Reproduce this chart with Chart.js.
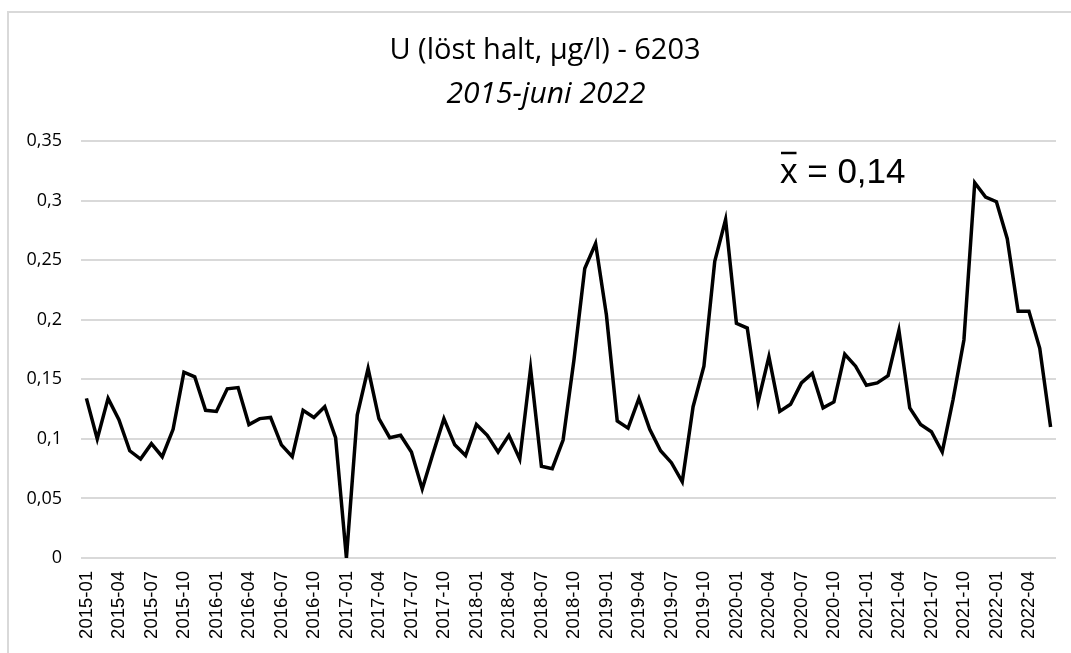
<!DOCTYPE html>
<html>
<head>
<meta charset="utf-8">
<script src="https://cdn.jsdelivr.net/npm/chart.js@4"></script>
<style>
  html, body { margin: 0; padding: 0; background: #fff; }
  #wrap { width: 1071px; height: 653px; }
</style>
</head>
<body>
<div id="wrap"><canvas id="uChart" width="1071" height="653"></canvas></div>
<script>
// months 2015-01 .. 2022-06
const months = [];
for (let y = 2015; y <= 2022; y++) {
    for (let m = 1; m <= 12; m++) {
        if (y === 2022 && m > 6) break;
        months.push(y + '-' + String(m).padStart(2, '0'));
    }
}

// U, dissolved (µg/l)
const values2015 = [0.134, 0.100, 0.134, 0.116, 0.090, 0.083, 0.096, 0.085, 0.108, 0.156, 0.152, 0.124];
const values2016 = [0.123, 0.142, 0.143, 0.112, 0.117, 0.118, 0.095, 0.085, 0.124, 0.118, 0.127, 0.101];
const values2017 = [0.000, 0.120, 0.159, 0.117, 0.101, 0.103, 0.089, 0.058, 0.088, 0.117, 0.095, 0.086];
const values2018 = [0.112, 0.103, 0.089, 0.103, 0.083, 0.159, 0.077, 0.075, 0.099, 0.166, 0.243, 0.264];
const values2019 = [0.204, 0.115, 0.109, 0.134, 0.108, 0.090, 0.080, 0.064, 0.127, 0.161, 0.249, 0.284];
const values2020 = [0.197, 0.193, 0.131, 0.169, 0.123, 0.129, 0.147, 0.155, 0.126, 0.131, 0.171, 0.161];
const values2021 = [0.145, 0.147, 0.153, 0.191, 0.126, 0.112, 0.106, 0.089, 0.133, 0.183, 0.315, 0.303];
const values2022 = [0.299, 0.268, 0.207, 0.207, 0.176, 0.110];
const uValues = [].concat(values2015, values2016, values2017, values2018,
                          values2019, values2020, values2021, values2022);

const yTickLabels = ['0', '0,05', '0,1', '0,15', '0,2', '0,25', '0,3', '0,35'];
const meanLabel = '0,14';
const titleText = 'U (löst halt, µg/l) - 6203';
const subtitleText = '2015-juni 2022';

const gridColor = '#d9d9d9';

// titles, mean annotation and the outer frame
const decorPlugin = {
    id: 'decor',
    afterDraw(chart) {
        const ctx = chart.ctx;
        ctx.save();
        // frame (top + left edge)
        ctx.strokeStyle = gridColor;
        ctx.lineWidth = 2;
        ctx.beginPath();
        ctx.moveTo(8, 653);
        ctx.lineTo(8, 12);
        ctx.lineTo(1071, 12);
        ctx.stroke();

        ctx.fillStyle = '#000';
        ctx.textAlign = 'center';
        ctx.textBaseline = 'middle';
        ctx.font = '29px "Open Sans"';
        ctx.fillText(titleText, 545, 51);
        ctx.font = 'italic 30px "Open Sans"';
        ctx.fillText(subtitleText, 546, 94);

        // x-bar = mean
        ctx.textAlign = 'left';
        ctx.textBaseline = 'alphabetic';
        ctx.font = '35px "Liberation Sans"';
        const x0 = 780;
        const base = 183;
        ctx.fillText('x = ' + meanLabel, x0, base);
        const xw = ctx.measureText('x').width;
        ctx.lineWidth = 2.5;
        ctx.strokeStyle = '#000';
        ctx.beginPath();
        ctx.moveTo(x0 + 1, 153);
        ctx.lineTo(x0 + xw - 1, 153);
        ctx.stroke();
        ctx.restore();
    }
};

new Chart(document.getElementById('uChart').getContext('2d'), {
    type: 'line',
    data: {
        labels: months,
        datasets: [{
            label: 'U',
            data: uValues,
            borderColor: '#000',
            borderWidth: 3.5,
            pointRadius: 0,
            tension: 0,
            fill: false
        }]
    },
    options: {
        responsive: false,
        animation: false,
        layout: { padding: { top: 141, right: 15, bottom: 0, left: 0 } },
        plugins: {
            legend: { display: false },
            tooltip: { enabled: false }
        },
        scales: {
            x: {
                offset: true,
                grid: { display: false, drawTicks: false },
                border: { display: false },
                afterFit(scale) {
                    scale.height = 95;
                    scale.paddingLeft = 0;
                    scale.paddingRight = 0;
                },
                ticks: {
                    autoSkip: false,
                    minRotation: 90,
                    maxRotation: 90,
                    padding: 13,
                    color: '#000',
                    font: { family: 'Liberation Sans', size: 18.5 },
                    callback(value, index) {
                        return index % 3 === 0 ? months[index] : '';
                    }
                }
            },
            y: {
                min: 0,
                max: 0.35,
                grid: { color: gridColor, lineWidth: 2, drawTicks: false },
                border: { display: false },
                afterFit(scale) { scale.width = 81; },
                ticks: {
                    stepSize: 0.05,
                    padding: 19,
                    color: '#000',
                    font: { family: 'Open Sans', size: 18 },
                    callback(value, index) {
                        return yTickLabels[index];
                    }
                }
            }
        }
    },
    plugins: [decorPlugin]
});
</script>
</body>
</html>
